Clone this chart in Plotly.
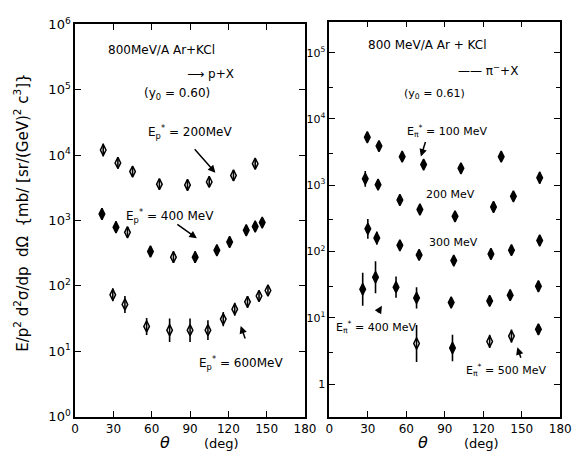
import plotly.graph_objects as go

W, H = 579, 467

# ---------------- data ----------------
# Left panel: 800 MeV/A Ar+KCl -> p + X
p200_theta = [22, 33.5, 45, 66, 88, 105, 124, 141]
p200_val = [12000, 7600, 5600, 3600, 3500, 3900, 4900, 7400]
p200_err = [0.10, 0.09, 0.08, 0.08, 0.08, 0.08, 0.08, 0.08]   # decades
p200_open = [1, 1, 1, 1, 1, 1, 1, 1]

p400_theta = [21, 32, 41, 59, 77, 94, 111, 121, 134, 141, 146.5]
p400_val = [1260, 790, 660, 335, 275, 275, 350, 470, 710, 810, 930]
p400_err = [0.09, 0.09, 0.08, 0.08, 0.09, 0.09, 0.08, 0.07, 0.07, 0.07, 0.07]
p400_open = [0, 0, 1, 0, 1, 0, 0, 0, 0, 0, 0]

p600_theta = [29.5, 39, 56, 74, 90, 104, 116, 125, 135, 144, 151]
p600_val = [73, 52, 24, 21, 21, 21, 31, 44, 57, 70, 85]
p600_err = [0.10, 0.13, 0.13, 0.18, 0.18, 0.15, 0.11, 0.10, 0.09, 0.07, 0.06]
p600_open = [1, 1, 1, 1, 1, 1, 1, 1, 1, 1, 1]

# Right panel: 800 MeV/A Ar+KCl -> pi- + X
pi100_theta = [29.6, 38.7, 56.8, 73.5, 102.6, 134]
pi100_val = [5300, 3900, 2700, 2050, 1800, 2700]
pi100_err = [0.07, 0.07, 0.07, 0.07, 0.07, 0.07]
pi100_open = [0, 0, 0, 0, 0, 0]

pi200_theta = [28, 38, 55, 70.6, 98, 128, 143.5, 164]
pi200_val = [1250, 1020, 600, 430, 340, 470, 680, 1300]
pi200_err = [0.12, 0.08, 0.07, 0.07, 0.07, 0.07, 0.07, 0.09]
pi200_open = [0, 0, 0, 0, 0, 0, 0, 0]

pi300_theta = [30, 37, 55, 70, 97, 126, 142, 164]
pi300_val = [220, 160, 124, 89, 73, 92, 105, 147]
pi300_err = [0.15, 0.10, 0.07, 0.07, 0.07, 0.07, 0.07, 0.08]
pi300_open = [0, 0, 0, 0, 0, 0, 0, 0]

pi400_theta = [26, 36, 52, 68, 95, 125, 141, 163]
pi400_val = [27, 41, 29, 20, 17, 18, 22, 30]
pi400_err = [0.25, 0.24, 0.16, 0.16, 0.08, 0.06, 0.08, 0.08]
pi400_open = [0, 0, 0, 0, 0, 0, 0, 0]

pi500_theta = [68, 96, 125, 142, 163]
pi500_val = [4.1, 3.5, 4.4, 5.3, 6.7]
pi500_err = [0.28, 0.20, 0.10, 0.10, 0.08]
pi500_open = [1, 0, 1, 1, 0]

left_ytickvals = [1, 10, 100, 1e3, 1e4, 1e5, 1e6]
left_yticktext = ["10<sup>0</sup>", "10<sup>1</sup>", "10<sup>2</sup>", "10<sup>3</sup>",
                  "10<sup>4</sup>", "10<sup>5</sup>", "10<sup>6</sup>"]
right_ytickvals = [1, 10, 100, 1e3, 1e4, 1e5]
right_yticktext = ["1", "10<sup>1</sup>", "10<sup>2</sup>", "10<sup>3</sup>",
                   "10<sup>4</sup>", "10<sup>5</sup>"]
xtickvals = [0, 30, 60, 90, 120, 150, 180]

# ---------------- figure ----------------
FONT = "DejaVu Sans"
fig = go.Figure()


def add_series(theta, val, err, opn, xa, ya):
    plus = [v * (10 ** e - 1) for v, e in zip(val, err)]
    minus = [v * (1 - 10 ** (-e)) for v, e in zip(val, err)]
    symbols = ["diamond-tall-open" if o else "diamond-tall" for o in opn]
    fig.add_trace(go.Scatter(
        x=theta, y=val, mode="markers", xaxis=xa, yaxis=ya,
        marker=dict(symbol=symbols, size=8, color="black",
                    line=dict(color="black", width=1.5)),
        error_y=dict(type="data", symmetric=False, array=plus, arrayminus=minus,
                     color="black", thickness=1.6, width=0),
        showlegend=False, hoverinfo="skip"))


add_series(p200_theta, p200_val, p200_err, p200_open, "x", "y")
add_series(p400_theta, p400_val, p400_err, p400_open, "x", "y")
add_series(p600_theta, p600_val, p600_err, p600_open, "x", "y")
add_series(pi100_theta, pi100_val, pi100_err, pi100_open, "x2", "y2")
add_series(pi200_theta, pi200_val, pi200_err, pi200_open, "x2", "y2")
add_series(pi300_theta, pi300_val, pi300_err, pi300_open, "x2", "y2")
add_series(pi400_theta, pi400_val, pi400_err, pi400_open, "x2", "y2")
add_series(pi500_theta, pi500_val, pi500_err, pi500_open, "x2", "y2")


def px(x):
    return x / W


def py(y):
    return 1 - y / H


axis_common = dict(showline=True, linecolor="black", linewidth=1.6, mirror="ticks",
                   ticks="inside", ticklen=6, tickwidth=1.4, tickcolor="black",
                   showgrid=False, zeroline=False,
                   tickfont=dict(family=FONT, size=12, color="black"))

fig.update_layout(
    width=W, height=H, margin=dict(l=0, r=0, t=0, b=0),
    paper_bgcolor="white", plot_bgcolor="white",
    xaxis=dict(domain=[px(73), px(309)], range=[0, 180], tickvals=xtickvals,
               anchor="y", **axis_common),
    yaxis=dict(domain=[py(423), py(16)], type="log", range=[0, 6],
               tickvals=left_ytickvals, ticktext=left_yticktext, anchor="x",
               **{**axis_common, "tickfont": dict(family=FONT, size=13, color="black")}),
    xaxis2=dict(domain=[px(334), px(571)], range=[0, 180], tickvals=xtickvals,
                anchor="y2", **axis_common),
    yaxis2=dict(domain=[py(423), py(13)], type="log", range=[-0.49, 5.47],
                tickvals=right_ytickvals, ticktext=right_yticktext, anchor="x2",
                minor=dict(tickvals=[0.3, 3, 30, 300, 3000, 30000, 300000],
                           ticks="inside", ticklen=4, tickcolor="black"),
                **{**axis_common, "tickfont": dict(family=FONT, size=11, color="black")}),
)

ann = []


def text(x, y, s, size=12, xanchor="center"):
    ann.append(dict(x=px(x), y=py(y), xref="paper", yref="paper", text=s,
                    showarrow=False, xanchor=xanchor, yanchor="middle",
                    font=dict(family=FONT, size=size, color="black")))


def arrow(x0, y0, x1, y1):
    ann.append(dict(x=px(x1), y=py(y1), xref="paper", yref="paper", text="",
                    showarrow=True, ax=x0 - x1, ay=y0 - y1, axref="pixel", ayref="pixel",
                    arrowhead=2, arrowsize=1, arrowwidth=1.5, arrowcolor="black"))


# left panel labels
text(162, 43, "800MeV/A Ar+KCl", 12)
text(212, 67, "⟶ p+X", 12)
text(178, 88, "(y<sub>0</sub> = 0.60)", 12)
text(191, 128, "E<sub>p</sub><sup>*</sup> = 200MeV", 12)
text(170, 215, "E<sub>p</sub><sup>*</sup> = 400 MeV", 12)
text(243, 367, "E<sub>p</sub><sup>*</sup> = 600MeV", 12)
arrow(195, 145, 217, 170)
arrow(177, 223, 198, 238)
arrow(248, 343, 243, 329)

# right panel labels
text(434, 37, "800 MeV/A Ar + KCl", 12)
text(497, 63, "—— π<sup>−</sup>+X", 12)
text(442, 88, "(y<sub>0</sub> = 0.61)", 11)
text(455, 127, "E<sub>π</sub><sup>*</sup> = 100 MeV", 11)
text(458, 193, "200 MeV", 11)
text(461, 242, "300 MeV", 11)
text(339, 330, "E<sub>π</sub><sup>*</sup> = 400 MeV", 11, xanchor="left")
text(515, 375, "E<sub>π</sub><sup>*</sup> = 500 MeV", 11)
arrow(433, 137, 428, 153)
arrow(531, 363, 527, 351)
arrow(383, 316, 388, 308)

# axis titles
text(165, 450, "<i>θ</i>", 16)
text(223, 451, "(deg)", 13)
text(430, 450, "<i>θ</i>", 16)
text(490, 451, "(deg)", 13)
ann.append(dict(x=px(18), y=py(212), xref="paper", yref="paper",
                text="E/p<sup>2</sup> d<sup>2</sup>σ/dp  dΩ  {mb/ [sr/(GeV)<sup>2</sup> c<sup>3</sup>]}",
                showarrow=False, textangle=-90, xanchor="center", yanchor="middle",
                font=dict(family=FONT, size=15, color="black")))

fig.update_layout(annotations=ann)
fig.write_html("out.html")
